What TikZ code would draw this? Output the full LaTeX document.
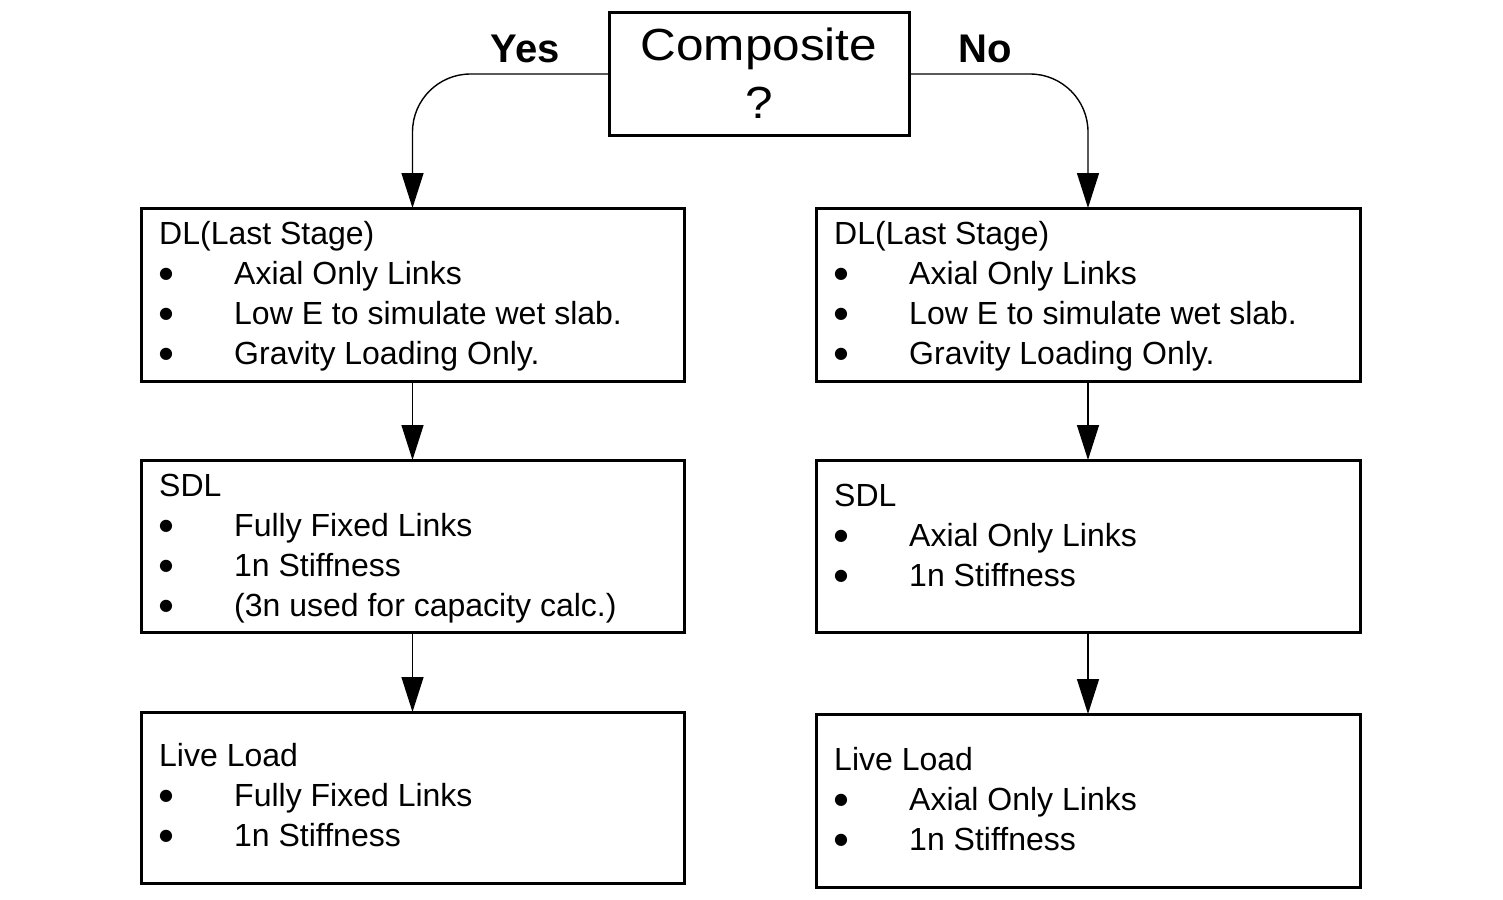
\documentclass[tikz,border=0pt]{standalone}
\usepackage{fontspec}
\setmainfont{Liberation Sans}
\newfontfamily\symfont{DejaVu Sans}
\usetikzlibrary{arrows.meta}
\newcommand{\bul}{\makebox[75pt][l]{\raisebox{6pt}{\symfont\fontsize{16}{16}\selectfont ●}}}
\begin{document}
\begin{tikzpicture}[x=1pt,y=-1pt,
  box/.style={draw, line width=3pt, inner sep=0pt, outer sep=0pt, anchor=north west},
  txt/.style={anchor=base west, inner sep=0pt, font=\fontsize{32}{40}\selectfont},
  big/.style={anchor=base, inner sep=0pt, font=\fontsize{45}{56}\selectfont},
  arr/.style={line width=1.4pt, -{Triangle[length=35pt,width=22pt]}},
  lab/.style={anchor=base, inner sep=0pt, font=\fontsize{40}{48}\selectfont\bfseries}]
\useasboundingbox (0,0) rectangle (1503,899);

% decision box
\node[box, minimum width=300pt, minimum height=122pt] (C) at (609,13) {};
\node[big] (ct1) at (759,60) {\scalebox{1.1}[1]{Composite}};
\node[big] (ct2) at (759,118) {\scalebox{1.1}[1]{?}};
\node[lab] (yes) at (525,63) {Yes};
\node[lab] (no) at (985,63) {No};

% left column
\node[box, minimum width=543pt, minimum height=173pt] (L1) at (141,208) {};
\node[box, minimum width=543pt, minimum height=172pt] (L2) at (141,460) {};
\node[box, minimum width=543pt, minimum height=171pt] (L3) at (141,712) {};
% right column
\node[box, minimum width=544pt, minimum height=173pt] (R1) at (816,208) {};
\node[box, minimum width=544pt, minimum height=172pt] (R2) at (816,460) {};
\node[box, minimum width=544pt, minimum height=173pt] (R3) at (816,714) {};

% texts left
\node[txt] (l1a) at (159,244) {DL(Last Stage)};
\node[txt] (l1b) at (159,284) {\bul Axial Only Links};
\node[txt] (l1c) at (159,324) {\bul Low E to simulate wet slab.};
\node[txt] (l1d) at (159,364) {\bul Gravity Loading Only.};

\node[txt] (l2a) at (159,496) {SDL};
\node[txt] (l2b) at (159,536) {\bul Fully Fixed Links};
\node[txt] (l2c) at (159,576) {\bul 1n Stiffness};
\node[txt] (l2d) at (159,616) {\bul (3n used for capacity calc.)};

\node[txt] (l3a) at (159,766) {Live Load};
\node[txt] (l3b) at (159,806) {\bul Fully Fixed Links};
\node[txt] (l3c) at (159,846) {\bul 1n Stiffness};

% texts right
\node[txt] (r1a) at (834,244) {DL(Last Stage)};
\node[txt] (r1b) at (834,284) {\bul Axial Only Links};
\node[txt] (r1c) at (834,324) {\bul Low E to simulate wet slab.};
\node[txt] (r1d) at (834,364) {\bul Gravity Loading Only.};

\node[txt] (r2a) at (834,506) {SDL};
\node[txt] (r2b) at (834,546) {\bul Axial Only Links};
\node[txt] (r2c) at (834,586) {\bul 1n Stiffness};

\node[txt] (r3a) at (834,770) {Live Load};
\node[txt] (r3b) at (834,810) {\bul Axial Only Links};
\node[txt] (r3c) at (834,850) {\bul 1n Stiffness};

% connectors
\draw[arr, rounded corners=58pt] (C.west) -| (L1.north);
\draw[arr, rounded corners=58pt] (C.east) -| (R1.north);
\draw[arr] (L1.south) -- (L2.north);
\draw[arr] (L2.south) -- (L3.north);
\draw[arr] (R1.south) -- (R2.north);
\draw[arr] (R2.south) -- (R3.north);
\end{tikzpicture}
\end{document}
